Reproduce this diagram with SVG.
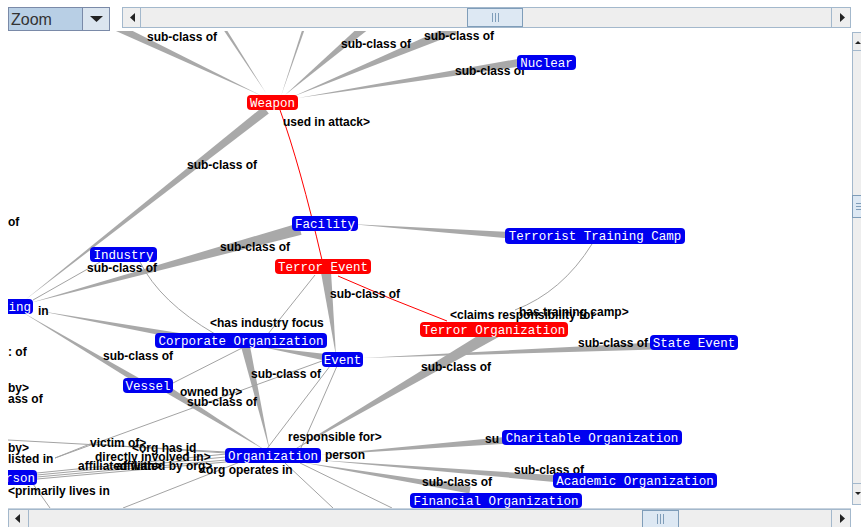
<svg xmlns="http://www.w3.org/2000/svg" width="861" height="527" viewBox="0 0 861 527">
<style>
.w{fill:#a9a9a9}
.l{fill:none;stroke:#a3a3a3;stroke-width:1}
.r{fill:none;stroke:#ff0000;stroke-width:1}
.lb{font-family:"Liberation Sans",Arial,sans-serif;font-weight:bold;font-size:12px;fill:#000}
.nt{font-family:"Liberation Mono","Courier New",monospace;font-size:12.5px;fill:#fff;text-anchor:middle}
.ne{font-family:"Liberation Mono","Courier New",monospace;font-size:12.5px;fill:#fff;text-anchor:end}
.bl{fill:#0000f0}
.rd{fill:#ff0000}
.tr{fill:#eeeeee;stroke:#a3b8cc}
.th{fill:#dde8f3;stroke:#7f9db9}
.gp{stroke:#7f9db9;stroke-width:1}
.ar{fill:#222}
</style>
<defs>
<clipPath id="cv"><rect x="8" y="31" width="842" height="477"/></clipPath>
</defs>
<rect x="0" y="0" width="861" height="527" fill="#ffffff"/>
<g clip-path="url(#cv)">
<g id="connectors">
<polygon class="w" points="262,96 111.7,20.4 108.3,27.6"/>
<polygon class="w" points="266,93 221.3,21.2 218.7,22.8"/>
<polygon class="w" points="281,96 307.2,22.4 304.8,21.6"/>
<polygon class="w" points="285,95 375.9,23.4 370.1,16.6"/>
<polygon class="w" points="292,97 456.9,33.6 453.1,24.4"/>
<polygon class="w" points="298,98 530.6,65.1 529.4,56.9"/>
<polygon class="w" points="25,300 268.8,113.5 263.2,106.5"/>
<polygon class="w" points="30,303 301.5,234.8 298.5,223.2"/>
<polygon class="w" points="350,224 519.7,239.5 520.3,232.5"/>
<polygon class="w" points="40,311 184.5,340 185.5,334"/>
<polygon class="w" points="22,312 138.5,384.6 141.5,379.4"/>
<polygon class="w" points="336,356 331,271.4 321,272.6"/>
<polygon class="w" points="270,452 249.4,343 240.6,345"/>
<polygon class="w" points="262,347 329.3,361.4 330.7,354.6"/>
<polygon class="w" points="362,358 655.2,349.5 654.8,342.5"/>
<polygon class="w" points="285,455 500,336.2 494,325.8"/>
<polygon class="w" points="268,452 163,391 167,385"/>
<polygon class="w" points="320,455 510.3,443.5 509.7,436.5"/>
<polygon class="w" points="318,460 559.7,482.5 560.3,475.5"/>
<polygon class="w" points="300,462 469.4,493.4 470.6,486.6"/>
<path class="l" d="M33,300 L100,262"/>
<path class="l" d="M140,262 Q160,302 215,334"/>
<path class="l" d="M315,275 L268,334"/>
<path class="l" d="M337,366 Q318,410 300,450"/>
<path class="l" d="M330,366 L266,450"/>
<path class="l" d="M55,458 L322,361"/>
<path class="l" d="M173,383 L242,348"/>
<path class="l" d="M592,244 Q562,292 515,310"/>
<path class="l" d="M8,440 L226,452"/>
<path class="l" d="M55,458 L90,444 L226,453"/>
<path class="l" d="M37,473 L226,454"/>
<path class="l" d="M37,475 L226,457"/>
<path class="l" d="M37,477 L226,460"/>
<path class="l" d="M37,479 L226,462"/>
<path class="l" d="M240,462 L123,508"/>
<path class="l" d="M33,484 L50,508"/>
<path class="l" d="M285,463 L333,508"/>
<path class="l" d="M300,463 L392,508"/>
<path class="r" d="M280,110 Q300,165 322,260"/>
<path class="r" d="M338,276 Q392,300 447,321"/>
</g>
<g id="labels">
<text class="lb" x="147" y="41">sub-class of</text>
<text class="lb" x="341" y="48">sub-class of</text>
<text class="lb" x="424" y="40">sub-class of</text>
<text class="lb" x="455" y="75">sub-class of</text>
<text class="lb" x="283" y="126">used in attack&gt;</text>
<text class="lb" x="187" y="169">sub-class of</text>
<text class="lb" x="8" y="226">of</text>
<text class="lb" x="220" y="251">sub-class of</text>
<text class="lb" x="87" y="272">sub-class of</text>
<text class="lb" x="330" y="298">sub-class of</text>
<text class="lb" x="38" y="315">in</text>
<text class="lb" x="210" y="327">&lt;has industry focus</text>
<text class="lb" x="519" y="316">has training camp&gt;</text>
<text class="lb" x="450" y="319">&lt;claims responsibility for</text>
<text class="lb" x="578" y="347">sub-class of</text>
<text class="lb" x="8" y="356">: of</text>
<text class="lb" x="103" y="360">sub-class of</text>
<text class="lb" x="421" y="371">sub-class of</text>
<text class="lb" x="251" y="378">sub-class of</text>
<text class="lb" x="8" y="392">by&gt;</text>
<text class="lb" x="180" y="396">owned by&gt;</text>
<text class="lb" x="8" y="403">ass of</text>
<text class="lb" x="187" y="406">sub-class of</text>
<text class="lb" x="288" y="441">responsible for&gt;</text>
<text class="lb" x="485" y="443">su</text>
<text class="lb" x="90" y="447">victim of&gt;</text>
<text class="lb" x="132" y="452">&lt;org has jd</text>
<text class="lb" x="8" y="452">by&gt;</text>
<text class="lb" x="325" y="459">person</text>
<text class="lb" x="95" y="461">directly involved in&gt;</text>
<text class="lb" x="8" y="463">listed in</text>
<text class="lb" x="78" y="470">affiliated with&gt;</text>
<text class="lb" x="116" y="470">affiliated by org&gt;</text>
<text class="lb" x="514" y="474">sub-class of</text>
<text class="lb" x="199" y="474">&lt;org operates in</text>
<text class="lb" x="422" y="486">sub-class of</text>
<text class="lb" x="8" y="495">&lt;primarily lives in</text>
</g>
<g id="n-weapon"><rect class="rd" x="247" y="95" width="51" height="15" rx="4"/><text class="nt" x="272.5" y="106.5">Weapon</text></g>
<g id="n-nuclear"><rect class="bl" x="517" y="55" width="59" height="15" rx="4"/><text class="nt" x="546.5" y="66.5">Nuclear</text></g>
<g id="n-facility"><rect class="bl" x="292" y="216" width="66" height="15" rx="4"/><text class="nt" x="325" y="227.5">Facility</text></g>
<g id="n-ttc"><rect class="bl" x="505" y="228" width="180" height="16" rx="4"/><text class="nt" x="595" y="240">Terrorist Training Camp</text></g>
<g id="n-industry"><rect class="bl" x="90" y="247" width="67" height="15" rx="4"/><text class="nt" x="123.5" y="258.5">Industry</text></g>
<g id="n-terror-event"><rect class="rd" x="275" y="259" width="96" height="15" rx="4"/><text class="nt" x="323" y="270.5">Terror Event</text></g>
<g id="n-ing"><rect class="bl" x="0" y="299" width="33" height="15" rx="4"/><text class="ne" x="31" y="310.5">ing</text></g>
<g id="n-terror-org"><rect class="rd" x="420" y="322" width="148" height="15" rx="4"/><text class="nt" x="494" y="333.5">Terror Organization</text></g>
<g id="n-corporate"><rect class="bl" x="155" y="333" width="172" height="15" rx="4"/><text class="nt" x="241" y="344.5">Corporate Organization</text></g>
<g id="n-event"><rect class="bl" x="322" y="352" width="41" height="15" rx="4"/><text class="nt" x="342.5" y="363.5">Event</text></g>
<g id="n-state-event"><rect class="bl" x="650" y="335" width="88" height="15" rx="4"/><text class="nt" x="694" y="346.5">State Event</text></g>
<g id="n-vessel"><rect class="bl" x="123" y="378" width="50" height="15" rx="4"/><text class="nt" x="148" y="389.5">Vessel</text></g>
<g id="n-charitable"><rect class="bl" x="502" y="430" width="180" height="15" rx="4"/><text class="nt" x="592" y="441.5">Charitable Organization</text></g>
<g id="n-organization"><rect class="bl" x="225" y="448" width="96" height="15" rx="4"/><text class="nt" x="273" y="459.5">Organization</text></g>
<g id="n-person"><rect class="bl" x="0" y="470" width="37" height="15" rx="4"/><text class="ne" x="35" y="481.5">rson</text></g>
<g id="n-academic"><rect class="bl" x="553" y="473" width="164" height="15" rx="4"/><text class="nt" x="635" y="484.5">Academic Organization</text></g>
<g id="n-financial"><rect class="bl" x="410" y="493" width="172" height="15" rx="4"/><text class="nt" x="496" y="504.5">Financial Organization</text></g>
</g>
<g id="ui">
<line x1="8" y1="508.5" x2="851" y2="508.5" stroke="#c8d3de"/>
<rect x="8.5" y="7.5" width="101" height="23" fill="#b8cfe5" stroke="#7a8aa8"/>
<rect x="82.5" y="7.5" width="27" height="23" fill="#dbe5ef" stroke="#7a8aa8"/>
<polygon class="ar" points="90,16 103,16 96.5,22"/>
<text x="11" y="25" font-family="Liberation Sans, Arial, sans-serif" font-size="16" fill="#333">Zoom</text>
<rect class="tr" x="122.5" y="7.5" width="728" height="20"/>
<rect class="tr" x="122.5" y="7.5" width="18" height="20"/>
<polygon class="ar" points="130,17.5 135,13 135,22"/>
<rect class="th" x="467.5" y="8.5" width="55" height="18"/>
<line class="gp" x1="492.5" y1="13" x2="492.5" y2="22"/>
<line class="gp" x1="495.5" y1="13" x2="495.5" y2="22"/>
<line class="gp" x1="498.5" y1="13" x2="498.5" y2="22"/>
<rect class="tr" x="831.5" y="7.5" width="19" height="20"/>
<polygon class="ar" points="845,17.5 840,13 840,22"/>
<rect class="tr" x="852.5" y="32.5" width="12" height="472"/>
<line x1="852.5" y1="50.5" x2="861" y2="50.5" stroke="#a3b8cc"/>
<polygon class="ar" points="858,41 861,44 855,44"/>
<rect class="th" x="852.5" y="195.5" width="12" height="22"/>
<line class="gp" x1="856" y1="203.5" x2="861" y2="203.5"/>
<line class="gp" x1="856" y1="206.5" x2="861" y2="206.5"/>
<line class="gp" x1="856" y1="209.5" x2="861" y2="209.5"/>
<line x1="852.5" y1="483.5" x2="861" y2="483.5" stroke="#a3b8cc"/>
<polygon class="ar" points="855,492 861,492 858,495"/>
<rect class="tr" x="8.5" y="509.5" width="842" height="19"/>
<rect class="tr" x="8.5" y="509.5" width="20" height="19"/>
<polygon class="ar" points="15,518.5 20,514 20,523"/>
<rect class="th" x="642.5" y="510.5" width="36" height="17"/>
<line class="gp" x1="657.5" y1="514" x2="657.5" y2="524"/>
<line class="gp" x1="660.5" y1="514" x2="660.5" y2="524"/>
<line class="gp" x1="663.5" y1="514" x2="663.5" y2="524"/>
<rect class="tr" x="831.5" y="509.5" width="19" height="19"/>
<polygon class="ar" points="845,518.5 840,514 840,523"/>
</g>
</svg>
